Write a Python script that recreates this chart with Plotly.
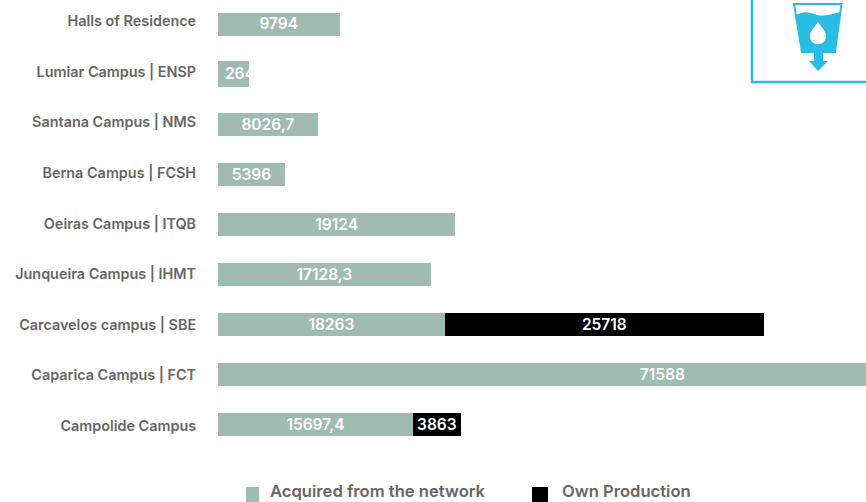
import plotly.graph_objects as go

W, H = 866, 502
PLOT_L, PLOT_B = 218, 450

# Bottom-to-top order
categories = ["Campolide Campus", "Caparica Campus | FCT", "Carcavelos campus | SBE",
              "Junqueira Campus | IHMT", "Oeiras Campus | ITQB", "Berna Campus | FCSH",
              "Santana Campus | NMS", "Lumiar Campus | ENSP", "Halls of Residence"]
acquired = [15697.4, 71588, 18263, 17128.3, 19124, 5396, 8026.7, 2500, 9794]
acquired_labels = ["15697,4", "71588", "18263", "17128,3", "19124", "5396", "8026,7", "2640", "9794"]
own = [3863, None, 25718, None, None, None, None, None, None]
own_labels = ["3863", None, "25718", None, None, None, None, None, None]
bar_widths = [0.46, 0.46, 0.46, 0.46, 0.46, 0.46, 0.46, 0.52, 0.46]
label_span_lumiar = 4350  # label of the cut-off bar is wider than the bar
series_names = ["Acquired from the network", "Own Production"]

X_MAX = 52200
Y_RANGE = [-0.51, 8.48]
TICK_RANGE = [-0.474, 8.415]
GREEN, BLACK, CYAN, GREY = "#a0bbb1", "#000000", "#29bde3", "#666666"
FONT = "Inter"


def px(x):
    return (x - PLOT_L) / (W - PLOT_L)


def py(y):
    return 1 - y / PLOT_B


def path(cmds):
    out = []
    for c in cmds:
        if isinstance(c, str):
            out.append(c)
        else:
            out.append(f"{px(c[0]):.5f},{py(c[1]):.5f}")
    return " ".join(out)


fig = go.Figure()
fig.add_bar(y=categories, x=acquired, orientation="h", name=series_names[0],
            marker=dict(color=GREEN, line_width=0), width=bar_widths, hoverinfo="skip")
fig.add_bar(y=categories, x=own, orientation="h", name=series_names[1],
            marker=dict(color=BLACK, line_width=0), width=bar_widths, hoverinfo="skip")

mid_a = [v / 2 for v in acquired]
mid_a[7] = label_span_lumiar / 2
mid_o = [a + o / 2 if o else None for a, o in zip(acquired, own)]
for xs, labels in ((mid_a, acquired_labels), (mid_o, own_labels)):
    fig.add_scatter(x=xs, y=categories, yaxis="y3", mode="text", text=labels,
                    textposition="middle center", hoverinfo="skip",
                    textfont=dict(family=FONT, size=15.5, color="#ffffff", weight=600))
# carries the category tick labels, spaced slightly differently from the bars
fig.add_scatter(x=[None] * len(categories), y=categories, yaxis="y2", mode="markers",
                hoverinfo="skip")

shapes = [
    # hides the part of the Lumiar label beyond its bar
    dict(type="rect", xref="x", yref="y", x0=acquired[7], x1=acquired[7] * 2.4, y0=6.7, y1=7.3,
         fillcolor="#ffffff", line_width=0, layer="above"),
    # icon frame
    dict(type="path", xref="paper", yref="paper", layer="above",
         path=path(["M", (752, 0), "L", (752, 82), "L", (866, 82)]),
         line=dict(color=CYAN, width=2.5)),
    # glass rim
    dict(type="path", xref="paper", yref="paper", layer="above",
         path=path(["M", (794, 4), "L", (841.5, 4), "L", (835, 52), "L", (802, 52), "Z"]),
         line=dict(color=CYAN, width=2), fillcolor="#ffffff"),
    # water
    dict(type="path", xref="paper", yref="paper", layer="above",
         path=path(["M", (796, 15), "C", (804, 11), (808, 12), (814, 14), "C", (822, 17), (830, 15),
                    (840, 12), "L", (835, 53), "L", (802, 53), "Z"]),
         line_width=0, fillcolor=CYAN),
    # drop
    dict(type="path", xref="paper", yref="paper", layer="above",
         path=path(["M", (818, 22), "C", (814, 28), (810, 31), (810, 36), "C", (810, 47), (826, 47),
                    (826, 36), "C", (826, 31), (822, 28), (818, 22), "Z"]),
         line_width=0, fillcolor="#ffffff"),
    # arrow
    dict(type="path", xref="paper", yref="paper", layer="above",
         path=path(["M", (814, 53), "L", (823, 53), "L", (823, 61), "L", (828, 61), "L", (818, 71),
                    "L", (809, 61), "L", (814, 61), "Z"]),
         line_width=0, fillcolor=CYAN),
]

# Legend: drawn by hand because it runs to the very bottom edge of the page
annotations = []
for name, colour, sw_l, sw_r, text_l in ((series_names[0], GREEN, 246, 259, 268),
                                         (series_names[1], BLACK, 532, 548, 560)):
    shapes.append(dict(type="rect", xref="paper", yref="paper", x0=px(sw_l), x1=px(sw_r),
                       y0=py(487), y1=py(502), fillcolor=colour, line_width=0, layer="above"))
    annotations.append(dict(text=name, xref="paper", yref="paper", x=px(text_l), y=py(490.5),
                            xanchor="left", yanchor="middle", showarrow=False,
                            font=dict(family=FONT, size=16.6, color=GREY, weight=600)))

cat_axis = dict(type="category", categoryorder="array", categoryarray=categories,
                showgrid=False, zeroline=False, showline=False, fixedrange=True)

fig.update_layout(
    width=W, height=H, autosize=False, showlegend=False,
    margin=dict(l=PLOT_L, r=0, t=0, b=H - PLOT_B, pad=0),
    barmode="stack", plot_bgcolor="#ffffff", paper_bgcolor="#ffffff",
    shapes=shapes, annotations=annotations,
    xaxis=dict(range=[0, X_MAX], visible=False, fixedrange=True),
    yaxis=dict(**cat_axis, range=Y_RANGE, showticklabels=False, ticks=""),
    yaxis2=dict(**cat_axis, overlaying="y", side="left", anchor="x",
                range=TICK_RANGE, ticks="outside", ticklen=18,
                tickcolor="rgba(0,0,0,0)",
                tickfont=dict(family=FONT, size=14.4, color=GREY, weight=600)),
    yaxis3=dict(**cat_axis, overlaying="y", side="left", anchor="x", showticklabels=False, ticks="",
                range=[Y_RANGE[0] + 0.03, Y_RANGE[1] + 0.03]),
)

fig.write_html("out.html", config={"displayModeBar": False},
               post_script="document.body.style.margin='0';document.body.style.overflow='hidden';")
